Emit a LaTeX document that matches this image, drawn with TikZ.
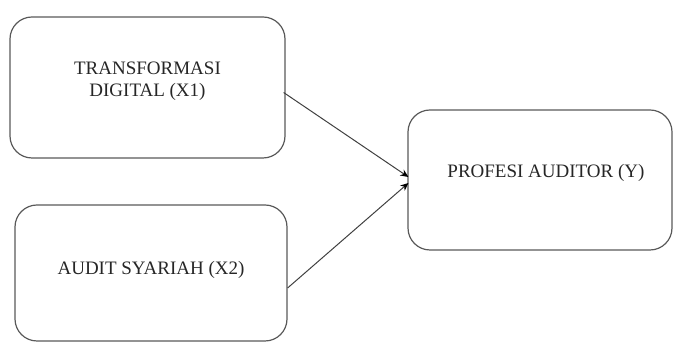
\documentclass[tikz,border=0pt]{standalone}
\usepackage{fontspec}
\setmainfont{Liberation Serif}
\usetikzlibrary{arrows.meta,calc}
\begin{document}
\begin{tikzpicture}[x=1pt,y=1pt,
  box/.style={draw=black!65, line width=1.2pt, rounded corners=22pt},
  lbl/.style={text=black!85, align=center, font=\fontsize{19}{22}\selectfont},
  conn/.style={draw=black!75, line width=1pt, -{Stealth[length=8pt,width=7pt,color=black]}}]
\useasboundingbox (0,0) rectangle (673,342);
\node[box, minimum width=275pt, minimum height=141pt] (b1) at (147.5,254.5) {};
\node[lbl] (t1) at (147.5,261) {TRANSFORMASI\\DIGITAL (X1)};
\node[box, minimum width=272pt, minimum height=136pt] (b2) at (151,69) {};
\node[lbl] (t2) at (151,72) {AUDIT SYARIAH (X2)};
\node[box, minimum width=264pt, minimum height=140pt] (b3) at (540,162) {};
\node[lbl] (t3) at (546,169) {PROFESI AUDITOR (Y)};
\draw[conn] ($(b1.east)+(-2,-5)$) -- ($(b3.west)+(1,3)$);
\draw[conn] ($(b2.east)+(0,-15)$) -- ($(b3.west)+(1,-3)$);
\end{tikzpicture}
\end{document}
